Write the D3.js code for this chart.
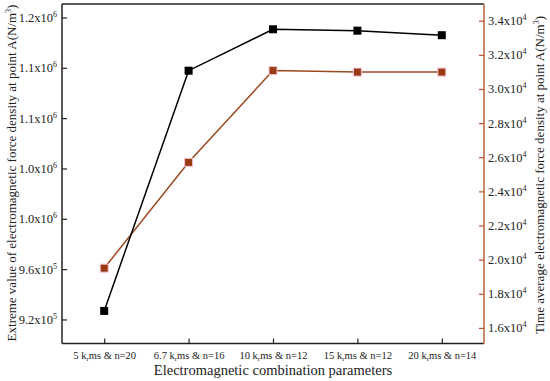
<!DOCTYPE html>
<html>
<head>
<meta charset="utf-8">
<script src="https://cdn.jsdelivr.net/npm/d3@7/dist/d3.min.js"></script>
<style>
  html, body { margin: 0; padding: 0; background: #fff; }
  svg, svg text { font-family: "Liberation Serif", "DejaVu Serif", serif !important; }
  svg { display: block; }
</style>
</head>
<body>
<svg id="chart" width="550" height="381"></svg>
<script>
// ---- data ----
const categories = ["5", "6.7", "10", "15", "20"];
const categoryN = ["20", "16", "12", "12", "14"];
const extremeValues = [926800, 1117700, 1150600, 1149500, 1145900];
const timeAverageValues = [19500, 25700, 31080, 30990, 30990];
const leftTickValues = [920000, 960000, 1000000, 1040000, 1080000, 1120000, 1160000];
const leftTickMantissa = ["9.2", "9.6", "1.0", "1.0", "1.1", "1.1", "1.2"];
const leftTickExponent = ["5", "5", "6", "6", "6", "6", "6"];
const rightTickValues = [16000, 18000, 20000, 22000, 24000, 26000, 28000, 30000, 32000, 34000];
const rightTickMantissa = ["1.6", "1.8", "2.0", "2.2", "2.4", "2.6", "2.8", "3.0", "3.2", "3.4"];
const rightTickExponent = ["4", "4", "4", "4", "4", "4", "4", "4", "4", "4"];

// ---- layout ----
const svg = d3.select("#chart");
const L = 62, R = 484, T = 4, B = 343.5;
const brown = "#b5633a";
const seriesBrown = "#9a4a22";
const markerBrown = "#9a3a12";
const serif = "'Liberation Serif', 'DejaVu Serif', serif";

const x = d3.scalePoint().domain(d3.range(categories.length)).range([L, R]).padding(0.5);
const yL = d3.scaleLinear().domain([900900, 1170700]).range([B, T]);
const yR = d3.scaleLinear().domain([15085, 34980]).range([B, T]);

// frame
svg.append("line").attr("x1", L).attr("x2", R).attr("y1", T).attr("y2", T).attr("stroke", "#222").attr("stroke-width", 1.5);
svg.append("line").attr("x1", L).attr("x2", R).attr("y1", B).attr("y2", B).attr("stroke", "#222").attr("stroke-width", 1.5);
svg.append("line").attr("x1", L).attr("x2", L).attr("y1", T).attr("y2", B).attr("stroke", "#222").attr("stroke-width", 1.5);
svg.append("line").attr("x1", R).attr("x2", R).attr("y1", T).attr("y2", B).attr("stroke", brown).attr("stroke-width", 1.5);

// x axis ticks (inward)
const xAxis = d3.axisBottom(x).tickSizeInner(-5).tickSizeOuter(0).tickFormat("");
const gx = svg.append("g").attr("transform", `translate(0,${B})`).call(xAxis).attr("font-family", serif);
gx.select(".domain").remove();
gx.selectAll(".tick line").attr("stroke", "#222").attr("stroke-width", 1.2);

// x tick labels with subscript r
gx.selectAll(".tick").each(function(d, i) {
  const t = d3.select(this).append("text")
    .attr("y", 15).attr("text-anchor", "middle")
    .attr("fill", "#222").style("font-size", "10.5px");
  t.append("tspan").text(categories[i] + " k");
  t.append("tspan").text("r").style("font-size", "7px").attr("dy", 2.5);
  t.append("tspan").text("ms & n=" + categoryN[i]).attr("dy", -2.5);
});

// left axis
const gl = svg.append("g").attr("transform", `translate(${L},0)`)
  .call(d3.axisLeft(yL).tickValues(leftTickValues).tickSizeInner(-5).tickSizeOuter(0).tickFormat(""))
  .attr("font-family", serif);
gl.select(".domain").remove();
gl.selectAll(".tick line").attr("stroke", "#222").attr("stroke-width", 1.2);
gl.selectAll(".tick").each(function(d, i) {
  const t = d3.select(this).append("text")
    .attr("x", -5).attr("y", 4).attr("text-anchor", "end")
    .attr("fill", "#222").style("font-size", "12.5px");
  t.append("tspan").text(leftTickMantissa[i] + "x10");
  t.append("tspan").text(leftTickExponent[i]).style("font-size", "8px").attr("dy", -5);
});

// right axis
const gr = svg.append("g").attr("transform", `translate(${R},0)`)
  .call(d3.axisRight(yR).tickValues(rightTickValues).tickSizeInner(-5).tickSizeOuter(0).tickFormat(""))
  .attr("font-family", serif);
gr.select(".domain").remove();
gr.selectAll(".tick line").attr("stroke", "#c0502a").attr("stroke-width", 1.2);
gr.selectAll(".tick").each(function(d, i) {
  const t = d3.select(this).append("text")
    .attr("x", 4).attr("y", 4).attr("text-anchor", "start")
    .attr("fill", "#222").style("font-size", "12.5px");
  t.append("tspan").text(rightTickMantissa[i] + "x10");
  t.append("tspan").text(rightTickExponent[i]).style("font-size", "8px").attr("dy", -5);
});

// series: time average (brown)
const idx = d3.range(categories.length);
svg.append("path").datum(idx)
  .attr("fill", "none").attr("stroke", seriesBrown).attr("stroke-width", 1.5)
  .attr("d", d3.line().x(i => x(i)).y(i => yR(timeAverageValues[i])));
svg.selectAll(".mR").data(idx).enter().append("rect")
  .attr("x", i => x(i) - 4).attr("y", i => yR(timeAverageValues[i]) - 4)
  .attr("width", 8).attr("height", 8)
  .attr("fill", markerBrown).attr("stroke", "#f4c4d8").attr("stroke-width", 1);

// series: extreme value (black)
svg.append("path").datum(idx)
  .attr("fill", "none").attr("stroke", "#000").attr("stroke-width", 1.5)
  .attr("d", d3.line().x(i => x(i)).y(i => yL(extremeValues[i])));
svg.selectAll(".mL").data(idx).enter().append("rect")
  .attr("x", i => x(i) - 4).attr("y", i => yL(extremeValues[i]) - 4)
  .attr("width", 8).attr("height", 8).attr("fill", "#000");

// axis titles
svg.append("text").attr("x", (L + R) / 2).attr("y", 375).attr("text-anchor", "middle")
  .attr("fill", "#222").style("font-size", "14.5px").text("Electromagnetic combination parameters");

const lt = svg.append("text").attr("transform", "translate(16,173) rotate(-90)")
  .attr("text-anchor", "middle").attr("fill", "#222").style("font-size", "13px");
lt.append("tspan").text("Extreme value of electromagnetic force density at point A(N/m");
lt.append("tspan").text("3").style("font-size", "8px").attr("dy", -5);
lt.append("tspan").text(")").attr("dy", 5);

const rt = svg.append("text").attr("transform", "translate(544,175) rotate(-90)")
  .attr("text-anchor", "middle").attr("fill", "#222").style("font-size", "13px");
rt.append("tspan").text("Time average electromagnetic force density at point A(N/m");
rt.append("tspan").text("3").style("font-size", "8px").attr("dy", -5);
rt.append("tspan").text(")").attr("dy", 5);
</script>
</body>
</html>
